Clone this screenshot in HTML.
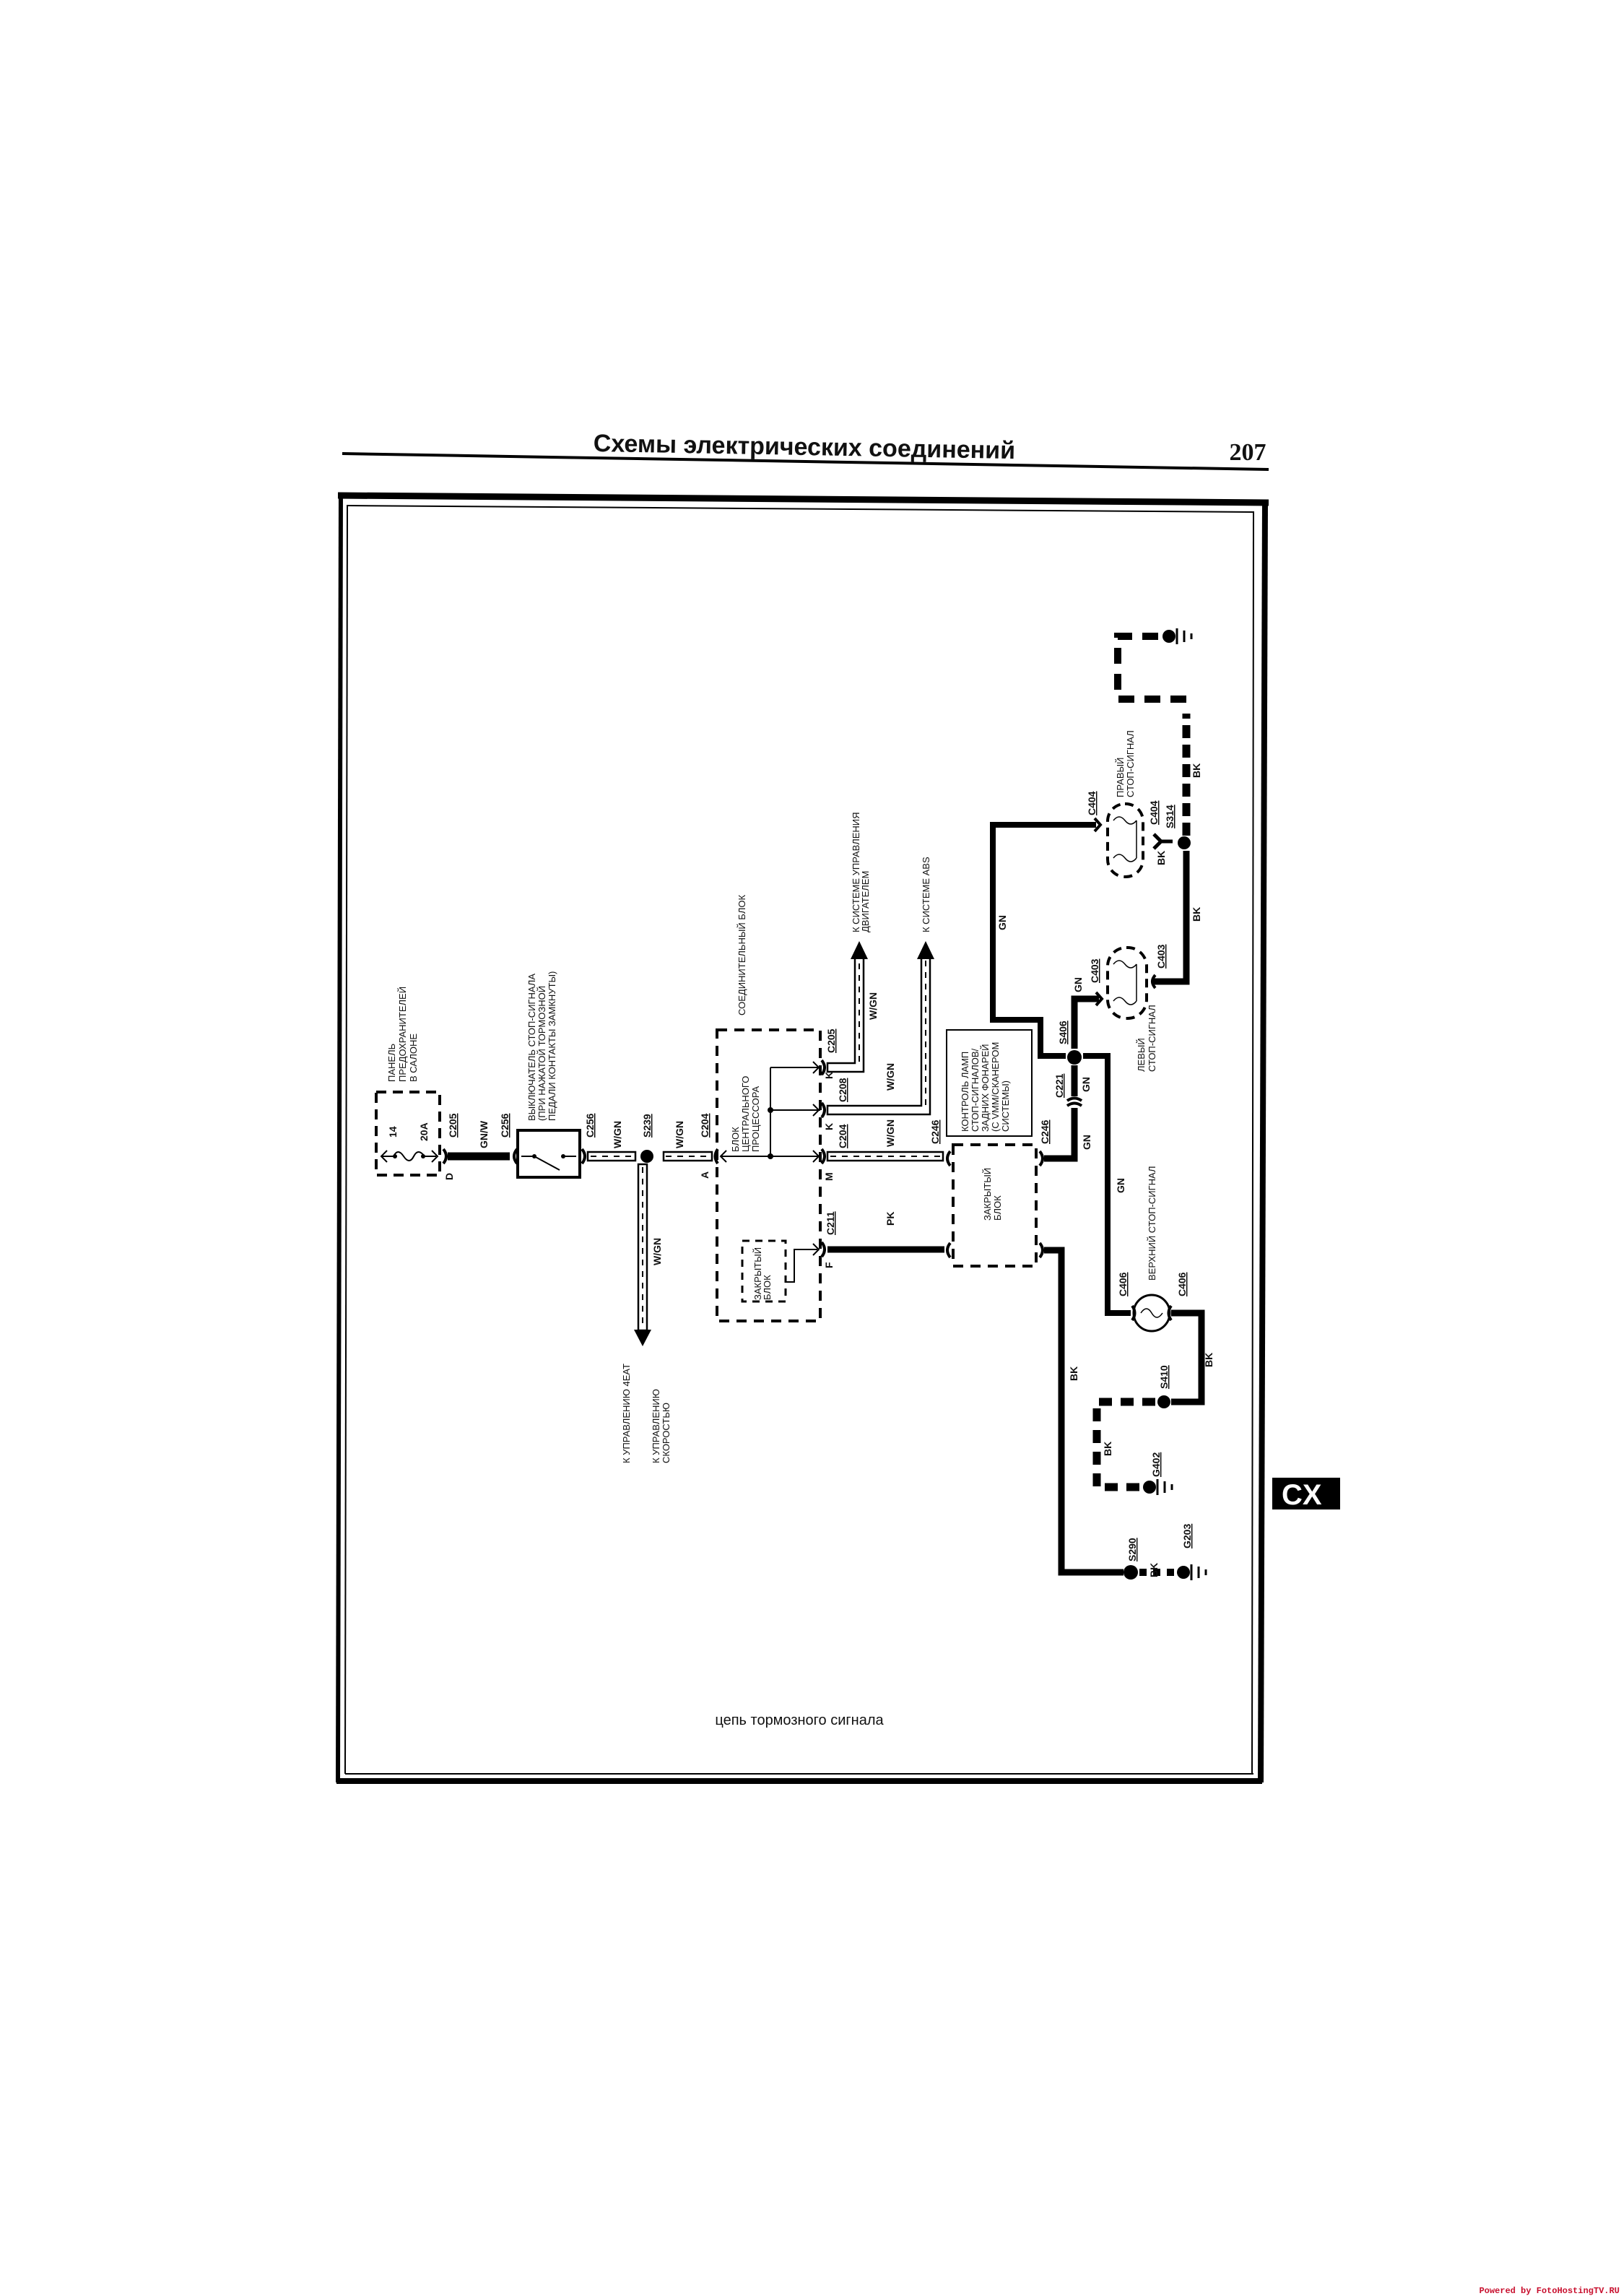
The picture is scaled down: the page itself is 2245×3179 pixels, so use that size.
<!DOCTYPE html>
<html><head><meta charset="utf-8"><style>
html,body{margin:0;padding:0;background:#fff;}
svg{display:block}
text{font-family:"Liberation Sans","DejaVu Sans",sans-serif;fill:#111}
.s{font-size:13px}
.b{font-size:14px;font-weight:bold}
</style></head><body>
<svg width="2245" height="3179" viewBox="0 0 2245 3179" xmlns="http://www.w3.org/2000/svg">
<rect width="2245" height="3179" fill="#fff"/>
<!-- header -->
<text x="1114" y="630" text-anchor="middle" style="font-size:34px;font-weight:bold;font-family:'Liberation Sans Narrow','Liberation Sans',sans-serif" transform="rotate(1 1114 616)">Схемы электрических соединений</text>
<text x="1728" y="637" text-anchor="middle" style="font-size:34px;font-weight:bold;font-family:'Liberation Serif',serif">207</text>
<line x1="474" y1="628" x2="1757" y2="650" stroke="#000" stroke-width="4"/>
<!-- frame -->
<g fill="none" stroke="#000">
<line x1="468" y1="686" x2="1757" y2="696" stroke-width="9"/>
<line x1="480" y1="700" x2="1737" y2="709" stroke-width="2"/>
<line x1="472" y1="682" x2="468" y2="2468" stroke-width="6"/>
<line x1="481" y1="700" x2="478" y2="2456" stroke-width="2"/>
<line x1="1752" y1="692" x2="1746" y2="2468" stroke-width="8"/>
<line x1="1736" y1="709" x2="1734" y2="2456" stroke-width="2"/>
<line x1="466" y1="2466" x2="1748" y2="2466" stroke-width="8"/>
<line x1="478" y1="2456" x2="1736" y2="2456" stroke-width="2"/>
</g>
<!-- CX -->
<rect x="1762" y="2046" width="94" height="44" fill="#000"/>
<text x="1775" y="2083" style="font-size:40px;font-weight:bold;fill:#fff">CX</text>
<text x="1107" y="2388" text-anchor="middle" style="font-size:20px">цепь тормозного сигнала</text>
<text x="2243" y="3175" text-anchor="end" style="font-size:12px;font-family:'Liberation Mono',monospace;font-weight:bold;fill:#c8102e">Powered by FotoHostingTV.RU</text>

<g fill="none" stroke="#000">
<rect x="521" y="1512" width="88" height="115" stroke-width="4" stroke-dasharray="14,9"/>
<line x1="528" y1="1601" x2="545" y2="1601" stroke-width="2"/>
<path d="M536 1593 L528 1601 L536 1609" stroke-width="2"/>
<path d="M545 1601 q6 -12 14 0 t14 0 t15 0" stroke-width="2"/>
<line x1="588" y1="1601" x2="604" y2="1601" stroke-width="2"/>
<path d="M598 1593 L606 1601 L598 1609" stroke-width="2"/>
<path d="M614 1591 Q622 1601 614 1611" stroke-width="4"/>
<line x1="620" y1="1601" x2="706" y2="1601" stroke-width="11"/>
<path d="M716 1591 Q708 1601 716 1611" stroke-width="4"/>
<rect x="717" y="1565" width="86" height="65" stroke-width="4"/>
<line x1="722" y1="1601" x2="740" y2="1601" stroke-width="2"/>
<line x1="780" y1="1601" x2="798" y2="1601" stroke-width="2"/>
<line x1="740" y1="1601" x2="775" y2="1620" stroke-width="2"/>
<path d="M806 1591 Q814 1601 806 1611" stroke-width="4"/>
<rect x="814" y="1595" width="66" height="12" stroke-width="2.5"/>
<line x1="818" y1="1601" x2="878" y2="1601" stroke-width="2" stroke-dasharray="8,8"/>
<rect x="919" y="1595" width="67" height="12" stroke-width="2.5"/>
<line x1="922" y1="1601" x2="984" y2="1601" stroke-width="2" stroke-dasharray="8,8"/>
<path d="M994 1591 Q987 1601 994 1611" stroke-width="4"/>
<rect x="884" y="1612" width="12" height="230" stroke-width="2.5"/>
<line x1="890" y1="1616" x2="890" y2="1840" stroke-width="2" stroke-dasharray="8,8"/>
<rect x="993" y="1426" width="143" height="403" stroke-width="4" stroke-dasharray="14,10"/>
<line x1="998" y1="1601" x2="1136" y2="1601" stroke-width="2"/>
<path d="M1006 1593 L998 1601 L1006 1609" stroke-width="2"/>
<line x1="1067" y1="1478" x2="1067" y2="1601" stroke-width="2"/>
<line x1="1067" y1="1478" x2="1136" y2="1478" stroke-width="2"/>
<line x1="1067" y1="1537" x2="1136" y2="1537" stroke-width="2"/>
<path d="M1126 1470 L1134 1478 L1126 1486 M1126 1529 L1134 1537 L1126 1545 M1126 1593 L1134 1601 L1126 1609 M1126 1722 L1134 1730 L1126 1738" stroke-width="2"/>
<path d="M1138 1468 Q1146 1478 1138 1488 M1138 1527 Q1146 1537 1138 1547 M1138 1591 Q1146 1601 1138 1611 M1138 1720 Q1146 1730 1138 1740" stroke-width="4"/>
<rect x="1028" y="1718" width="60" height="84" stroke-width="3" stroke-dasharray="10,8"/>
<path d="M1088 1775 H1100 V1730 H1132" stroke-width="2"/>
<path d="M1146 1472 H1184 V1326 H1196 V1484 H1146 Z" stroke-width="2.5"/>
<line x1="1190" y1="1470" x2="1190" y2="1330" stroke-width="2" stroke-dasharray="8,8"/>
<path d="M1146 1531 H1276 V1326 H1288 V1543 H1146 Z" stroke-width="2.5"/>
<line x1="1282" y1="1530" x2="1282" y2="1330" stroke-width="2" stroke-dasharray="8,8"/>
<rect x="1146" y="1595" width="160" height="12" stroke-width="2.5"/>
<line x1="1150" y1="1601" x2="1302" y2="1601" stroke-width="2" stroke-dasharray="8,8"/>
<line x1="1146" y1="1730" x2="1308" y2="1730" stroke-width="9"/>
<path d="M1316 1594 Q1308 1604 1316 1614 M1316 1721 Q1308 1731 1316 1741" stroke-width="4"/>
<rect x="1320" y="1585" width="115" height="168" stroke-width="4" stroke-dasharray="14,10"/>
<rect x="1311" y="1426" width="118" height="147" stroke-width="2"/>
<path d="M1440 1594 Q1448 1604 1440 1614 M1440 1721 Q1448 1731 1440 1741" stroke-width="4"/>
<path d="M1446 1604 H1488 V1534" stroke-width="9"/>
<path d="M1478 1531 Q1488 1524 1498 1531 M1478 1524 Q1488 1517 1498 1524" stroke-width="4"/>
<path d="M1488 1518 V1475" stroke-width="9"/>
<path d="M1488 1452 V1383 H1522" stroke-width="9"/>
<path d="M1476 1462 H1441 V1412 H1375 V1142 H1518" stroke-width="8"/>
<path d="M1500 1462 H1534 V1818 H1566" stroke-width="8"/>
<path d="M1518 1374 L1526 1383 L1518 1392 M1516 1133 L1524 1142 L1516 1151" stroke-width="4"/>
<rect x="1534" y="1312" width="54" height="98" rx="26" stroke-width="4" stroke-dasharray="12,8"/>
<rect x="1534" y="1113" width="49" height="101" rx="24" stroke-width="4" stroke-dasharray="12,8"/>
<path d="M1542 1335 q8 -10 16 0 t16 0 M1542 1386 q8 -10 16 0 t16 0 M1574 1335 V1386" stroke-width="1.5"/>
<path d="M1542 1136 q8 -10 16 0 t16 0 M1542 1188 q8 -10 16 0 t16 0 M1574 1136 V1188" stroke-width="1.5"/>
<path d="M1600 1350 Q1592 1359 1600 1368" stroke-width="4"/>
<path d="M1598 1359 H1643 V1178" stroke-width="9"/>
<path d="M1643 1157 V988" stroke-width="11" stroke-dasharray="18,9"/>
<path d="M1643 968 H1548 V881 H1612" stroke-width="10" stroke-dasharray="22,14"/>
<path d="M1598 1155 L1608 1165 L1598 1175 M1608 1165 H1624" stroke-width="5"/>
<circle cx="1595" cy="1818" r="25" stroke-width="3"/>
<path d="M1580 1818 q8 -12 15 0 t15 0" stroke-width="1.5"/>
<path d="M1568 1808 Q1575 1818 1568 1828 M1622 1808 Q1615 1818 1622 1828" stroke-width="4"/>
<path d="M1622 1818 H1664 V1941 H1622" stroke-width="9"/>
<path d="M1600 1941 H1519 V2059 H1583" stroke-width="11" stroke-dasharray="18,12"/>
<path d="M1446 1731 H1470 V2177 H1556" stroke-width="9"/>
<path d="M1578 2177 H1630" stroke-width="10" stroke-dasharray="10,9"/>
<path d="M1630 870 V892 M1640 873 V889 M1650 877 V885" stroke-width="3"/>
<path d="M1603 2048 V2070 M1613 2051 V2067 M1623 2055 V2063" stroke-width="3"/>
<path d="M1650 2166 V2188 M1660 2169 V2185 M1670 2173 V2181" stroke-width="3"/>
</g>
<g fill="#000">
<circle cx="896" cy="1601" r="9"/>
<circle cx="1067" cy="1537" r="4"/><circle cx="1067" cy="1601" r="4"/>
<polygon points="1178,1328 1202,1328 1190,1303"/>
<polygon points="1270,1328 1294,1328 1282,1303"/>
<polygon points="878,1841 902,1841 890,1864"/>
<circle cx="1488" cy="1464" r="10"/>
<circle cx="1640" cy="1167" r="9"/>
<circle cx="1619" cy="881" r="9"/>
<circle cx="1612" cy="1941" r="9"/>
<circle cx="1592" cy="2059" r="9"/>
<circle cx="1566" cy="2177" r="10"/>
<circle cx="1639" cy="2177" r="9"/>
<circle cx="547" cy="1601" r="3"/><circle cx="586" cy="1601" r="3"/>
<circle cx="740" cy="1601" r="3"/><circle cx="780" cy="1601" r="3"/>
</g>

<g class="s">
<text transform="translate(547,1498) rotate(-90)">ПАНЕЛЬ</text>
<text transform="translate(562,1498) rotate(-90)">ПРЕДОХРАНИТЕЛЕЙ</text>
<text transform="translate(577,1498) rotate(-90)">В САЛОНЕ</text>
<text transform="translate(741,1552) rotate(-90)">ВЫКЛЮЧАТЕЛЬ СТОП-СИГНАЛА</text>
<text transform="translate(755,1552) rotate(-90)">(ПРИ НАЖАТОЙ ТОРМОЗНОЙ</text>
<text transform="translate(769,1552) rotate(-90)">ПЕДАЛИ КОНТАКТЫ ЗАМКНУТЫ)</text>
<text transform="translate(1032,1406) rotate(-90)">СОЕДИНИТЕЛЬНЫЙ БЛОК</text>
<text transform="translate(1023,1595) rotate(-90)">БЛОК</text>
<text transform="translate(1037,1595) rotate(-90)">ЦЕНТРАЛЬНОГО</text>
<text transform="translate(1051,1595) rotate(-90)">ПРОЦЕССОРА</text>
<text transform="translate(1190,1291) rotate(-90)">К СИСТЕМЕ УПРАВЛЕНИЯ</text>
<text transform="translate(1203,1291) rotate(-90)">ДВИГАТЕЛЕМ</text>
<text transform="translate(1287,1291) rotate(-90)">К СИСТЕМЕ ABS</text>
<text transform="translate(1054,1800) rotate(-90)">ЗАКРЫТЫЙ</text>
<text transform="translate(1067,1800) rotate(-90)">БЛОК</text>
<text transform="translate(1341,1567) rotate(-90)">КОНТРОЛЬ ЛАМП</text>
<text transform="translate(1355,1567) rotate(-90)">СТОП-СИГНАЛОВ/</text>
<text transform="translate(1369,1567) rotate(-90)">ЗАДНИХ ФОНАРЕЙ</text>
<text transform="translate(1383,1567) rotate(-90)">(С VMM/СКАНЕРОМ</text>
<text transform="translate(1397,1567) rotate(-90)">СИСТЕМЫ)</text>
<text transform="translate(1372,1690) rotate(-90)">ЗАКРЫТЫЙ</text>
<text transform="translate(1386,1690) rotate(-90)">БЛОК</text>
<text transform="translate(872,2026) rotate(-90)">К УПРАВЛЕНИЮ 4EAT</text>
<text transform="translate(913,2026) rotate(-90)">К УПРАВЛЕНИЮ</text>
<text transform="translate(927,2026) rotate(-90)">СКОРОСТЬЮ</text>
<text transform="translate(1556,1104) rotate(-90)">ПРАВЫЙ</text>
<text transform="translate(1570,1104) rotate(-90)">СТОП-СИГНАЛ</text>
<text transform="translate(1585,1484) rotate(-90)">ЛЕВЫЙ</text>
<text transform="translate(1600,1484) rotate(-90)">СТОП-СИГНАЛ</text>
<text transform="translate(1600,1773) rotate(-90)">ВЕРХНИЙ СТОП-СИГНАЛ</text>
</g>
<g class="b" text-decoration="underline">
<text transform="translate(632,1575) rotate(-90)">C205</text>
<text transform="translate(704,1575) rotate(-90)">C256</text>
<text transform="translate(822,1575) rotate(-90)">C256</text>
<text transform="translate(901,1575) rotate(-90)">S239</text>
<text transform="translate(981,1575) rotate(-90)">C204</text>
<text transform="translate(1156,1458) rotate(-90)">C205</text>
<text transform="translate(1172,1526) rotate(-90)">C208</text>
<text transform="translate(1172,1590) rotate(-90)">C204</text>
<text transform="translate(1155,1710) rotate(-90)">C211</text>
<text transform="translate(1300,1584) rotate(-90)">C246</text>
<text transform="translate(1452,1584) rotate(-90)">C246</text>
<text transform="translate(1472,1520) rotate(-90)">C221</text>
<text transform="translate(1477,1446) rotate(-90)">S406</text>
<text transform="translate(1521,1361) rotate(-90)">C403</text>
<text transform="translate(1613,1341) rotate(-90)">C403</text>
<text transform="translate(1517,1129) rotate(-90)">C404</text>
<text transform="translate(1603,1142) rotate(-90)">C404</text>
<text transform="translate(1625,1147) rotate(-90)">S314</text>
<text transform="translate(1560,1795) rotate(-90)">C406</text>
<text transform="translate(1642,1795) rotate(-90)">C406</text>
<text transform="translate(1617,1923) rotate(-90)">S410</text>
<text transform="translate(1606,2045) rotate(-90)">G402</text>
<text transform="translate(1573,2162) rotate(-90)">S290</text>
<text transform="translate(1649,2144) rotate(-90)">G203</text>
</g>
<g class="b">
<text transform="translate(549,1575) rotate(-90)">14</text>
<text transform="translate(592,1580) rotate(-90)">20A</text>
<text transform="translate(627,1634) rotate(-90)">D</text>
<text transform="translate(675,1590) rotate(-90)">GN/W</text>
<text transform="translate(860,1590) rotate(-90)">W/GN</text>
<text transform="translate(946,1590) rotate(-90)">W/GN</text>
<text transform="translate(981,1632) rotate(-90)">A</text>
<text transform="translate(1153,1494) rotate(-90)">K</text>
<text transform="translate(1153,1565) rotate(-90)">K</text>
<text transform="translate(1153,1635) rotate(-90)">M</text>
<text transform="translate(1153,1756) rotate(-90)">F</text>
<text transform="translate(1214,1412) rotate(-90)">W/GN</text>
<text transform="translate(1238,1510) rotate(-90)">W/GN</text>
<text transform="translate(1238,1588) rotate(-90)">W/GN</text>
<text transform="translate(1238,1697) rotate(-90)">PK</text>
<text transform="translate(915,1752) rotate(-90)">W/GN</text>
<text transform="translate(1393,1288) rotate(-90)">GN</text>
<text transform="translate(1498,1374) rotate(-90)">GN</text>
<text transform="translate(1509,1512) rotate(-90)">GN</text>
<text transform="translate(1510,1592) rotate(-90)">GN</text>
<text transform="translate(1557,1652) rotate(-90)">GN</text>
<text transform="translate(1613,1198) rotate(-90)">BK</text>
<text transform="translate(1662,1077) rotate(-90)">BK</text>
<text transform="translate(1662,1276) rotate(-90)">BK</text>
<text transform="translate(1679,1893) rotate(-90)">BK</text>
<text transform="translate(1492,1912) rotate(-90)">BK</text>
<text transform="translate(1539,2016) rotate(-90)">BK</text>
<text transform="translate(1603,2184) rotate(-90)">BK</text>
</g>
</svg>
</body></html>
